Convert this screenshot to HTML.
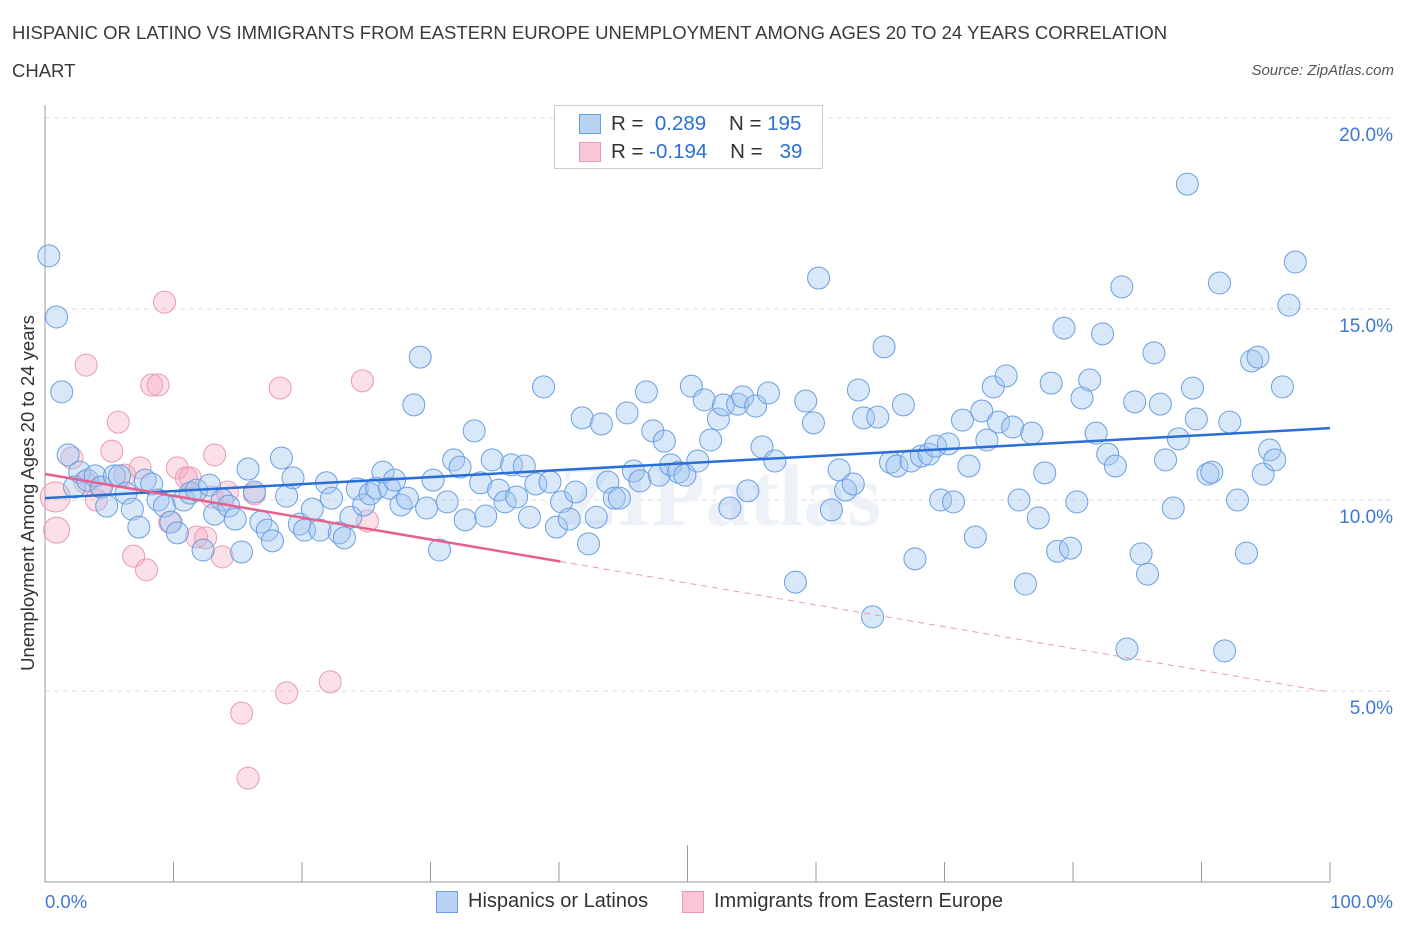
<!DOCTYPE html>
<html><head><meta charset="utf-8"><style>
body{margin:0;background:#fff;font-family:"Liberation Sans",sans-serif;}
#wrap{position:relative;width:1406px;height:930px;overflow:hidden;}
.t{position:absolute;color:#3a3a3a;font-size:18.5px;}
</style></head><body>
<div id="wrap">
<div class="t" style="left:12px;top:22px">HISPANIC OR LATINO VS IMMIGRANTS FROM EASTERN EUROPE UNEMPLOYMENT AMONG AGES 20 TO 24 YEARS CORRELATION</div>
<div class="t" style="left:12px;top:60px">CHART</div>
<div class="t" style="right:12px;top:62px;font-size:15px;font-style:italic;color:#555">Source: ZipAtlas.com</div>
<svg id="svg" width="1406" height="930" style="position:absolute;left:0;top:0"></svg>
</div>
<script>
const bx=[0.3,0.9,1.3,1.8,2.7,2.3,3.3,3.9,4.4,4.8,5.4,5.8,6.3,6.8,7.3,7.8,8.3,8.8,9.3,9.8,10.3,10.8,11.3,11.8,12.3,12.8,13.2,13.8,14.3,14.8,15.3,15.8,16.3,16.8,17.3,17.7,18.4,18.8,19.3,19.8,20.2,20.8,21.4,21.9,22.3,22.9,23.3,23.8,24.3,24.8,25.3,25.8,26.3,26.8,27.2,27.7,28.2,28.7,29.2,29.7,30.2,30.7,31.3,31.8,32.3,32.7,33.4,33.9,34.3,34.8,35.3,35.8,36.3,36.7,37.3,37.7,38.2,38.8,39.3,39.8,40.2,40.8,41.3,41.8,42.3,42.9,43.3,43.8,44.3,44.7,45.3,45.8,46.3,46.8,47.3,47.8,48.2,48.7,49.3,49.8,50.3,50.8,51.3,51.8,52.4,52.8,53.3,53.9,54.3,54.7,55.3,55.8,56.3,56.8,58.4,59.2,59.8,60.2,61.2,61.8,62.3,62.9,63.3,63.7,64.4,64.8,65.3,65.8,66.3,66.8,67.7,67.4,68.2,68.8,69.3,69.7,70.3,70.7,71.4,71.9,72.4,72.9,73.3,73.8,74.2,74.8,75.3,75.8,76.3,76.8,77.3,77.8,78.3,78.8,79.3,79.8,80.3,80.7,81.3,81.8,82.3,82.7,83.3,83.8,84.2,84.8,85.3,85.8,86.3,86.8,87.2,87.8,88.2,88.9,89.3,89.6,90.5,90.8,91.4,91.8,92.2,92.8,93.5,93.9,94.4,94.8,95.3,95.7,96.3,96.8,97.3];
const by=[16.39,14.79,12.83,11.18,10.73,10.34,10.52,10.63,10.34,9.84,10.63,10.63,10.18,9.76,9.29,10.52,10.42,10.0,9.84,9.42,9.14,10.0,10.18,10.26,8.69,10.39,9.63,10.0,9.84,9.5,8.64,10.81,10.21,9.42,9.21,8.93,11.1,10.1,10.58,9.37,9.21,9.76,9.21,10.45,10.05,9.14,9.01,9.55,10.29,9.87,10.16,10.31,10.73,10.31,10.52,9.87,10.05,12.49,13.74,9.79,10.52,8.69,9.95,11.05,10.86,9.48,11.81,10.45,9.58,11.05,10.26,9.95,10.92,10.08,10.89,9.55,10.42,12.96,10.47,9.29,9.95,9.5,10.21,12.15,8.85,9.55,11.99,10.47,10.05,10.05,12.28,10.76,10.5,12.83,11.81,10.65,11.54,10.92,10.73,10.65,12.98,11.02,12.62,11.57,12.12,12.49,9.79,12.51,12.7,10.24,12.46,11.39,12.8,11.02,7.85,12.59,12.02,15.81,9.74,10.79,10.26,10.42,12.88,12.15,6.94,12.17,14.01,10.99,10.89,12.49,8.46,11.02,11.15,11.2,11.41,10.0,11.47,9.95,12.09,10.89,9.03,12.33,11.57,12.96,12.04,13.25,11.91,10.0,7.8,11.75,9.53,10.71,13.06,8.66,14.5,8.74,9.95,12.67,13.14,11.75,14.35,11.2,10.89,15.58,6.1,12.57,8.59,8.06,13.85,12.51,11.05,9.79,11.6,18.27,12.93,12.12,10.68,10.73,15.68,6.05,12.04,10.0,8.61,13.64,13.74,10.68,11.31,11.05,12.96,15.1,16.23];
const px=[0.8,0.9,2.1,3.1,4.0,4.3,5.2,5.7,6.2,6.9,7.4,7.9,8.3,8.8,9.3,9.7,10.3,11.0,11.3,11.8,12.5,13.0,13.2,13.8,14.2,15.3,15.8,16.3,18.3,18.8,22.2,24.7,25.1,3.2];
const py=[10.08,9.21,11.1,10.47,10.0,10.34,11.28,12.04,10.65,8.53,10.84,8.17,13.01,13.01,15.18,9.42,10.84,10.58,10.58,9.03,9.01,10.08,11.18,8.51,10.21,4.42,2.72,10.16,12.93,4.95,5.24,13.12,9.45,13.53];
const pSize=[15,13,11,11,11,11,11,11,11,11,11,11,11,11,11,11,11,11,11,11,11,11,11,11,11,11,11,11,11,11,11,11,11,11];
const blueTrend=[10.05,11.88];
const pinkTrend=[10.68,4.97];
const pinkSolidEnd=40.1;
const yTicks=[5,10,15,20];
const yTickLabels=["5.0%","10.0%","15.0%","20.0%"];
const xTicks=[0,10,20,30,40,50,60,70,80,90,100];

const X=v=>45+v*12.85, Y=v=>882-v*38.2;
const svg=document.getElementById('svg'),NS='http://www.w3.org/2000/svg';
function mk(t,a,p){const e=document.createElementNS(NS,t);for(const k in a)e.setAttribute(k,a[k]);(p||svg).appendChild(e);return e;}
yTicks.forEach((v,i)=>{
 let g=mk('line',{x1:45,x2:1393,y1:Y(v),y2:Y(v),stroke:'#dcdcdc','stroke-dasharray':'5,4'});
 
 
 let t=mk('text',{x:1393,y:Y(v)+23,'text-anchor':'end','font-size':19,fill:'#3f78d0','font-family':'Liberation Sans'});
 t.textContent=yTickLabels[i];
 
 
});
let ax=mk('line',{x1:45,x2:45,y1:105,y2:882,stroke:'#999'});


let ax2=mk('line',{x1:45,x2:1330,y1:882,y2:882,stroke:'#999'});


xTicks.forEach(v=>{
 let l=mk('line',{x1:X(v),x2:X(v),y1:v==50?845:862,y2:882,stroke:'#999'});
 
 
});
let wm=mk('text',{x:720,y:525,'text-anchor':'middle','font-size':88,fill:'#edf1f8','font-family':'Liberation Serif','font-weight':'bold'});
wm.textContent='ZIPatlas';


px.forEach((v,i)=>{
 let c=mk('circle',{cx:X(v),cy:Y(py[i]),r:pSize[i],fill:'rgba(245,165,190,0.35)',stroke:'#eb9ab5','stroke-width':1});
 
 
});
bx.forEach((v,i)=>{
 let c=mk('circle',{cx:X(v),cy:Y(by[i]),r:11,fill:'rgba(160,198,240,0.4)',stroke:'#6b9fe2','stroke-width':1});
 
 
});
const pt=x=>pinkTrend[0]+(pinkTrend[1]-pinkTrend[0])*x/100;
let bl=mk('line',{x1:X(0),y1:Y(blueTrend[0]),x2:X(100),y2:Y(blueTrend[1]),stroke:'#2a6fd6','stroke-width':2.5});


let pl=mk('line',{x1:X(0),y1:Y(pt(0)),x2:X(pinkSolidEnd),y2:Y(pt(pinkSolidEnd)),stroke:'#e8608e','stroke-width':2.5});


let pd=mk('line',{x1:X(pinkSolidEnd),y1:Y(pt(pinkSolidEnd)),x2:X(100),y2:Y(pt(100)),stroke:'#eb9ab5','stroke-width':1,'stroke-dasharray':'6,5'});


</script>
<div style="position:absolute;left:554px;top:105px;width:267px;height:62px;border:1px solid #ccc;background:#fff;font-size:20.5px;color:#333">
 <div style="position:absolute;left:24px;top:8px;width:20px;height:18px;background:#b9d3f5;border:1px solid #6b9fe2"></div>
 <div style="position:absolute;left:56px;top:6px;white-space:pre">R =  <span style="color:#2a6fd6">0.289</span>    N = <span style="color:#2a6fd6">195</span></div>
 <div style="position:absolute;left:24px;top:36px;width:20px;height:18px;background:#f8c6d6;border:1px solid #eb9ab5"></div>
 <div style="position:absolute;left:56px;top:34px;white-space:pre">R = <span style="color:#2a6fd6">-0.194</span>    N =   <span style="color:#2a6fd6">39</span></div>
</div>
<div style="position:absolute;left:45px;top:891px;font-size:18.5px;color:#3f78d0">0.0%</div>
<div style="position:absolute;right:13px;top:891px;font-size:18.5px;color:#3f78d0">100.0%</div>
<div style="position:absolute;left:436px;top:891px;width:20px;height:20px;background:#b9d3f5;border:1px solid #6b9fe2"></div>
<div style="position:absolute;left:468px;top:890px;font-size:20px;color:#333">Hispanics or Latinos</div>
<div style="position:absolute;left:682px;top:891px;width:20px;height:20px;background:#f8c6d6;border:1px solid #eb9ab5"></div>
<div style="position:absolute;left:714px;top:890px;font-size:20px;color:#333">Immigrants from Eastern Europe</div>
<div style="position:absolute;top:493px;transform:translate(-50%,-50%) rotate(-90deg);transform-origin:center;left:28px;white-space:nowrap;font-size:18.5px;color:#333">Unemployment Among Ages 20 to 24 years</div>
</body></html>
